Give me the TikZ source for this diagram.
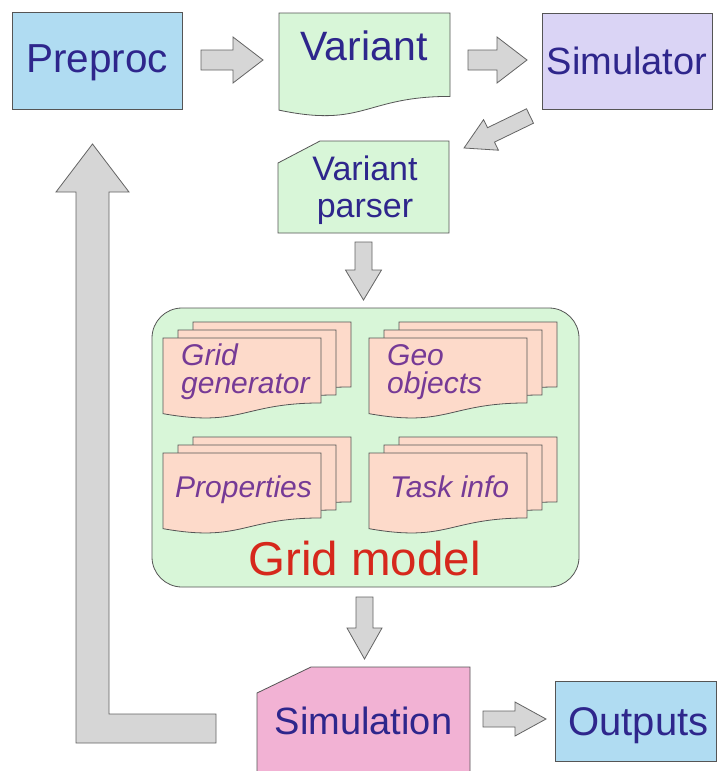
\documentclass[tikz,border=0pt]{standalone}
\usepackage{fontspec}
\setmainfont{Liberation Sans}
\usetikzlibrary{calc}

\definecolor{inkblue}{RGB}{46,38,140}
\definecolor{inkpurple}{RGB}{118,58,150}
\definecolor{inkred}{RGB}{214,40,28}
\definecolor{boxblue}{RGB}{176,220,242}
\definecolor{boxgreen}{RGB}{216,246,216}
\definecolor{boxlilac}{RGB}{218,212,245}
\definecolor{boxpink}{RGB}{242,178,212}
\definecolor{pagepeach}{RGB}{253,218,202}
\definecolor{edgegrey}{RGB}{85,85,85}
\definecolor{arrowfill}{RGB}{214,214,214}
\definecolor{arrowedge}{RGB}{100,100,100}

% block arrow between two named points:
% #1 tail, #2 tip, #3 half shaft width, #4 half head width, #5 head length
\newcommand\blockarrow[5]{%
  \draw[blockarr] let \p1=(#1), \p2=(#2),
      \n1={atan2(\y2-\y1,\x2-\x1)}, \n2={veclen(\x2-\x1,\y2-\y1)} in
    [shift={(\p1)}, rotate=\n1]
    (0,#3) -- ({\n2-#5},#3) -- ({\n2-#5},#4) -- (\n2,0)
    -- ({\n2-#5},-#4) -- ({\n2-#5},-#3) -- (0,-#3) -- cycle;}

% document sheet with a wavy lower edge: x, y (top left), width, height, fill
\newcommand\docsheet[5]{%
  \draw[outline, fill=#5] (#1,#2) -- ({#1+#3},#2) -- ({#1+#3},{#2+0.802*#4})
    .. controls ({#1+0.5*#3},{#2+0.802*#4}) and ({#1+0.5*#3},{#2+1.107*#4})
    .. (#1,{#2+0.934*#4}) -- cycle;}

% three stacked sheets, front sheet top left at (#1,#2)
\newcommand\sheetstack[2]{%
  \docsheet{#1+30}{#2-16}{158}{81}{pagepeach}
  \docsheet{#1+15}{#2-8}{158}{81}{pagepeach}
  \docsheet{#1}{#2}{158}{81}{pagepeach}}

\begin{document}
\begin{tikzpicture}[x=1pt, y=-1pt,
  outline/.style={draw=edgegrey, line width=0.8pt, line join=miter},
  blockarr/.style={draw=arrowedge, fill=arrowfill, line width=0.8pt, line join=miter},
  boxnode/.style={outline, inner sep=0pt, anchor=north west},
  bigtxt/.style={text=inkblue, inner sep=0pt, anchor=base},
  pagetxt/.style={text=inkpurple, inner sep=0pt, anchor=base west,
                  font=\fontsize{30}{31}\selectfont\itshape},
]
\useasboundingbox[fill=white] (0,0) rectangle (721,771);

% ---- top row ----
\node[boxnode, fill=boxblue, minimum width=170pt, minimum height=97pt] (preproc) at (12,12) {};
\node[bigtxt, font=\fontsize{40.5}{44}\selectfont] (preproc-t) at (97,72) {Preproc};

\docsheet{279}{13}{171}{104}{boxgreen}
\node[bigtxt, font=\fontsize{41}{44}\selectfont] (variant) at (364,60) {Variant};

\node[boxnode, fill=boxlilac, minimum width=170pt, minimum height=96pt] (simulator) at (542,13) {};
\node[bigtxt, font=\fontsize{38}{42}\selectfont] (simulator-t) at (627,74) {Simulator};

\coordinate (a1s) at (201,60);  \coordinate (a1e) at (263,60);
\coordinate (a2s) at (468,60);  \coordinate (a2e) at (527,60);
\blockarrow{a1s}{a1e}{10}{23}{30}
\blockarrow{a2s}{a2e}{10}{23}{30}

% ---- parser ----
\coordinate (a3s) at (530,116); \coordinate (a3e) at (464,148);
\blockarrow{a3s}{a3e}{8}{17}{30}

\draw[outline, fill=boxgreen] (320,141) -- (449,141) -- (449,233) -- (278,233) -- (278,163) -- cycle;
\node[bigtxt, font=\fontsize{34}{38}\selectfont] (parser1) at (365,180) {Variant};
\node[bigtxt, font=\fontsize{34}{38}\selectfont] (parser2) at (365,217) {parser};

\coordinate (a4s) at (363.5,242); \coordinate (a4e) at (363.5,300);
\blockarrow{a4s}{a4e}{8.5}{18}{30}

% ---- grid model ----
\draw[outline, fill=boxgreen, rounded corners=30pt] (152,308) rectangle (579,587);
\sheetstack{163}{338}
\sheetstack{369}{338}
\sheetstack{163}{453}
\sheetstack{369}{453}
\node[pagetxt] (gridgen1) at (181,365) {Grid};
\node[pagetxt] (gridgen2) at (181,393) {generator};
\node[pagetxt] (geo1) at (387,365) {Geo};
\node[pagetxt] (geo2) at (387,393) {objects};
\node[pagetxt] (props) at (175,497) {Properties};
\node[pagetxt] (task) at (390,497) {Task info};
\node[inner sep=0pt, anchor=base, text=inkred, font=\fontsize{47.5}{50}\selectfont] (gridmodel) at (364.5,575) {Grid model};

\coordinate (a5s) at (364.5,597); \coordinate (a5e) at (364.5,659);
\blockarrow{a5s}{a5e}{8.5}{17.5}{31}

% ---- bottom row ----
\draw[outline, fill=boxpink] (311,667) -- (470,667) -- (470,780) -- (257,780) -- (257,693) -- cycle;
\node[bigtxt, font=\fontsize{38}{42}\selectfont] (simulation) at (363.5,734) {Simulation};

\coordinate (a6s) at (483,719); \coordinate (a6e) at (546,719);
\blockarrow{a6s}{a6e}{8}{17}{31}

\node[boxnode, fill=boxblue, minimum width=161pt, minimum height=80pt] (outputs) at (555,681) {};
\node[bigtxt, font=\fontsize{40}{42}\selectfont] (outputs-t) at (638.5,735) {Outputs};

% ---- feedback loop back to the preprocessor ----
\coordinate (fbs) at (216,728.5);
\coordinate (fbtip) at (92.5,144);
\draw[blockarr] (216,714) -- (216,743) -- (76,743) -- (76,192) -- (56,192) -- (fbtip)
  -- (129,192) -- (109,192) -- (109,714) -- cycle;
\end{tikzpicture}
\end{document}
